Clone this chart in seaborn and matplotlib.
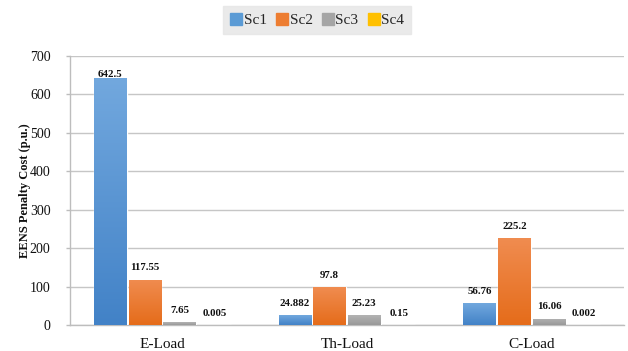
import numpy as np
import pandas as pd
import matplotlib
matplotlib.use("Agg")
import matplotlib.pyplot as plt
from matplotlib.colors import LinearSegmentedColormap
from matplotlib.lines import Line2D
import seaborn as sns

# Data
loads = ["E-Load", "Th-Load", "C-Load"]
scenarios = ["Sc1", "Sc2", "Sc3", "Sc4"]
sc1 = [642.5, 24.882, 56.76]
sc2 = [117.55, 97.8, 225.2]
sc3 = [7.65, 25.23, 16.06]
sc4 = [0.005, 0.15, 0.002]
label_text = {
    "Sc1": ["642.5", "24.882", "56.76"],
    "Sc2": ["117.55", "97.8", "225.2"],
    "Sc3": ["7.65", "25.23", "16.06"],
    "Sc4": ["0.005", "0.15", "0.002"],
}

df = pd.DataFrame({
    "Load": loads * 4,
    "Scenario": sum([[s] * 3 for s in scenarios], []),
    "Cost": sc1 + sc2 + sc3 + sc4,
})

# Flat colours (legend) and gradient ends (top, bottom) for bars
flat = {"Sc1": "#5b9bd5", "Sc2": "#ed7d31", "Sc3": "#a5a5a5", "Sc4": "#ffc000"}
grad = {
    "Sc1": ("#72a8de", "#4282c7"),
    "Sc2": ("#f08c50", "#e56c1a"),
    "Sc3": ("#b3b3b3", "#999999"),
    "Sc4": ("#ffd04a", "#f2b400"),
}

sns.set_theme(style="white")
plt.rcParams["font.family"] = ["Liberation Serif", "DejaVu Serif"]

fig = plt.figure(figsize=(6.28, 3.51), dpi=100)
ax = fig.add_axes([70 / 628, 26 / 351, (624 - 70) / 628, (325 - 56) / 351])

sns.barplot(data=df, x="Load", y="Cost", hue="Scenario", order=loads,
            hue_order=scenarios, palette=flat, width=0.75, gap=0.06,
            legend=False, ax=ax, zorder=3)

# Vertical gradient fill on every bar, clipped to the bar itself
ramp = np.linspace(0, 1, 256).reshape(-1, 1)
for scen, cont in zip(scenarios, ax.containers):
    top, bottom = grad[scen]
    cmap = LinearSegmentedColormap.from_list(scen, [bottom, top])
    for bar in cont:
        x0, y0 = bar.get_x(), bar.get_y()
        w, h = bar.get_width(), bar.get_height()
        im = ax.imshow(ramp, extent=[x0, x0 + w, y0, y0 + h], origin="lower",
                       cmap=cmap, aspect="auto", zorder=3.5,
                       interpolation="bilinear")
        im.set_clip_path(bar)

ax.set_xlim(-0.5, 2.5)
ax.set_ylim(0, 700)

# Value labels above bars
label_gap = 31
label_ceiling = 653
for scen, cont in zip(scenarios, ax.containers):
    for bar, txt in zip(cont, label_text[scen]):
        xc = bar.get_x() + bar.get_width() / 2
        yl = min(bar.get_height() + label_gap, label_ceiling)
        ax.text(xc, yl, txt, ha="center", va="center", fontsize=7.8,
                fontweight="bold", color="#111111", zorder=5)

# Axes styling
ax.set_yticks(np.arange(0, 701, 100))
ax.yaxis.grid(True, color="#c6c6c6", linewidth=1.0, zorder=0)
ax.set_axisbelow(True)
for side in ["top", "right"]:
    ax.spines[side].set_visible(False)
for side in ["left", "bottom"]:
    ax.spines[side].set_visible(True)
    ax.spines[side].set_color("#bdbdbd")
    ax.spines[side].set_linewidth(1.0)
ax.tick_params(axis="y", which="both", left=True, length=3, width=1.0,
               color="#bdbdbd", labelsize=10, pad=11, labelcolor="#111111")
ax.tick_params(axis="x", bottom=False, labelsize=11, pad=3, labelcolor="#111111")
ax.set_xlabel("")
ax.set_ylabel("EENS Penalty Cost (p.u.)", fontsize=9, fontweight="bold",
              color="#111111")
ax.yaxis.set_label_coords(-0.071, 0.5)

# Legend across the top
handles = [Line2D([], [], marker="s", linestyle="", markersize=8,
                  markerfacecolor=flat[s], markeredgecolor=flat[s], label=s)
           for s in scenarios]
leg = fig.legend(handles=handles, loc="center", bbox_to_anchor=(0.505, 0.943),
                 ncol=4, frameon=True, fontsize=11, handlelength=0.8,
                 handletextpad=0.1, columnspacing=0.6, borderpad=0.45,
                 fancybox=False)
leg.get_frame().set_facecolor("#e5e5e5")
leg.get_frame().set_edgecolor("#e5e5e5")

fig.savefig("out.png", dpi=100, facecolor="white")
